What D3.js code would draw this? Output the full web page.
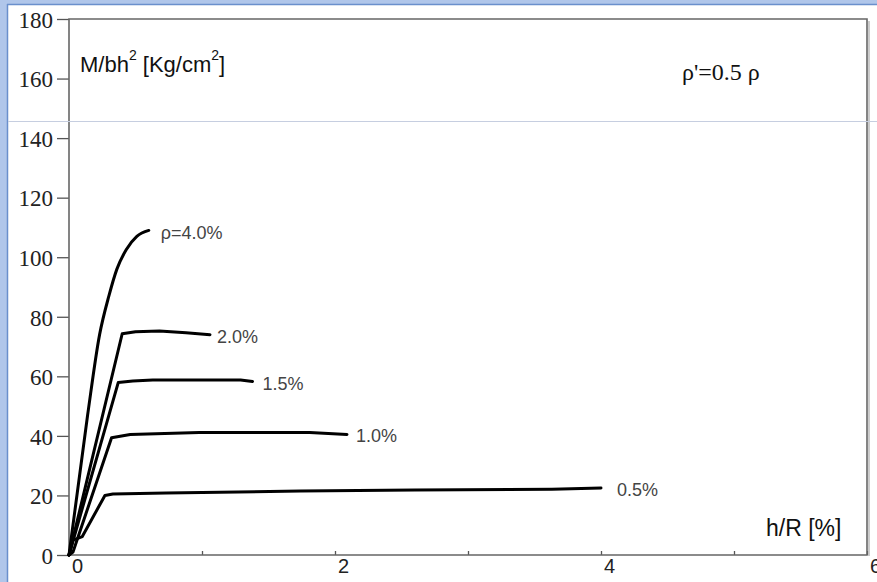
<!DOCTYPE html>
<html lang="en">
	<head>
		<meta charset="utf-8">
		<title>M/bh2 vs h/R</title>
		<style>
			body { margin: 0; background: #fff; }
			.curve { fill: none; stroke: #000; stroke-width: 3; stroke-linejoin: round; stroke-linecap: round; }
			.lbl { font: 18px "Liberation Sans", Arial, sans-serif; fill: #444; }
			.yax text { font: 23px "Liberation Serif", "Times New Roman", serif; fill: #222; }
			.xax text { font: 20px "Liberation Sans", Arial, sans-serif; fill: #222; }
			.yax path, .xax path { display: none; }
			.yax line, .xax line { stroke: #555; stroke-width: 1.3; }
		</style>
	</head>
	<body>
		<svg class="chart"></svg>

		<script src="https://d3js.org/d3.v7.min.js"></script>
		<script type="text/javascript">

			// tick values
			var xTicks = [0, 1, 2, 3, 4, 5, 6],
				xLabels = ["0", "", "2", "", "4", "", "6"],
				yTicks = [0, 20, 40, 60, 80, 100, 120, 140, 160, 180];

			// curves: [h/R %, M/bh2]
			var rho40 = [[0, 0], [0.14, 47], [0.23, 74], [0.3, 87], [0.36, 96], [0.43, 102.5], [0.51, 107], [0.6, 109]],
				rho20 = [[0, 0], [0.4, 74.3], [0.5, 75], [0.68, 75.2], [0.88, 74.6], [1.06, 74]],
				rho15 = [[0, 0], [0.37, 57.9], [0.48, 58.4], [0.63, 58.8], [1.29, 58.8], [1.38, 58.3]],
				rho10 = [[0, 0], [0.03, 1], [0.32, 39.4], [0.46, 40.5], [0.98, 41.1], [1.81, 41.1], [2.09, 40.5]],
				rho05 = [[0, 0], [0.03, 5], [0.1, 6.2], [0.27, 20], [0.33, 20.5], [0.73, 20.8], [1.74, 21.5], [2.6, 21.8], [3.63, 22.1], [4.0, 22.5]];

			var labels = ["\u03C1=4.0%", "2.0%", "1.5%", "1.0%", "0.5%"],
				series = [rho40, rho20, rho15, rho10, rho05];

			var width = 877,
				height = 582;

			var svg = d3.select(".chart")
				.attr("width", width)
				.attr("height", height);

			// window chrome from the screenshot
			svg.append("rect").attr("x", 0).attr("y", 0).attr("width", 8).attr("height", height).attr("fill", "#b0c6ea");
			svg.append("rect").attr("x", 0).attr("y", 0).attr("width", width).attr("height", 4).attr("fill", "#b0c6ea");
			svg.append("line").attr("x1", 7.5).attr("x2", 7.5).attr("y1", 4).attr("y2", height).attr("stroke", "#6a8fcc").attr("stroke-width", 1.5);
			svg.append("line").attr("x1", 7).attr("x2", width).attr("y1", 4.5).attr("y2", 4.5).attr("stroke", "#6a8fcc").attr("stroke-width", 1.5);

			var x = d3.scaleLinear().domain([0, 6]).range([69, 867]);
			var y = d3.scaleLinear().domain([0, 180]).range([555, 19]);

			// y axis, ticks outside
			svg.append("g")
				.attr("class", "yax")
				.attr("transform", "translate(69,0)")
				.call(d3.axisLeft(y).tickValues(yTicks).tickSize(12).tickPadding(4))
				.selectAll("text").attr("dy", "0.36em");

			// x axis, small ticks pointing up
			svg.append("g")
				.attr("class", "xax")
				.attr("transform", "translate(0,555)")
				.call(d3.axisBottom(x).tickValues(xTicks).tickSize(-4).tickPadding(4)
					.tickFormat(function(d, i) { return xLabels[i]; }))
				.selectAll("text").attr("dx", 8);

			// frame
			svg.append("path")
				.attr("d", "M" + x(0) + "," + y(180) + "H" + x(6) + "V" + y(0) + "H" + x(0) + "Z")
				.attr("fill", "none")
				.attr("stroke", "#666")
				.attr("stroke-width", 1.6);
			svg.append("line").attr("x1", x(6) + 2).attr("x2", x(6) + 2).attr("y1", y(180) + 2).attr("y2", y(0) + 1)
				.attr("stroke", "#bbb").attr("stroke-width", 1.5);

			// faint screen line across the picture
			svg.append("line").attr("x1", 8).attr("x2", width).attr("y1", 121.5).attr("y2", 121.5)
				.attr("stroke", "#c6cee0").attr("stroke-width", 1);

			var line = d3.line()
				.x(function(d) { return x(d[0]); })
				.y(function(d) { return y(d[1]); });

			svg.selectAll(".curve")
				.data(series)
				.enter().append("path")
				.attr("class", "curve")
				.attr("d", function(d, i) { return line.curve(i === 0 ? d3.curveMonotoneX : d3.curveLinear)(d); });

			// end labels
			var lblOffset = [[12, 9], [7, 8], [10, 9], [9, 8], [16, 8]];
			svg.selectAll(".lbl")
				.data(series)
				.enter().append("text")
				.attr("class", "lbl")
				.attr("x", function(d, i) { return x(d[d.length - 1][0]) + lblOffset[i][0]; })
				.attr("y", function(d, i) { return y(d[d.length - 1][1]) + lblOffset[i][1]; })
				.text(function(d, i) { return labels[i]; });

			// titles
			var ytitle = svg.append("text")
				.attr("x", 80).attr("y", 72)
				.style("font", "22px 'Liberation Sans', Arial, sans-serif")
				.attr("fill", "#111");
			ytitle.append("tspan").text("M/bh");
			ytitle.append("tspan").attr("dy", -12).style("font-size", "14px").text("2");
			ytitle.append("tspan").attr("dy", 12).text(" [Kg/cm");
			ytitle.append("tspan").attr("dy", -12).style("font-size", "14px").text("2");
			ytitle.append("tspan").attr("dy", 12).text("]");

			svg.append("text")
				.attr("x", 682).attr("y", 80)
				.style("font", "24px 'Liberation Serif', 'Times New Roman', serif")
				.attr("fill", "#111")
				.text("\u03C1'=0.5 \u03C1");

			svg.append("text")
				.attr("x", 766).attr("y", 536)
				.style("font", "23px 'Liberation Sans', Arial, sans-serif")
				.attr("fill", "#111")
				.text("h/R [%]");

		</script>
	</body>
</html>
